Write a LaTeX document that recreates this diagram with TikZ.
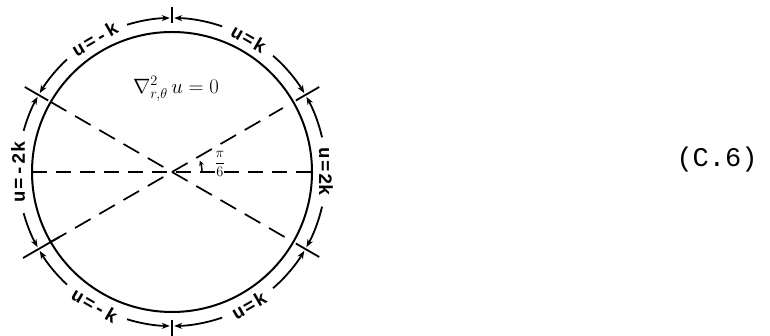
\documentclass[tikz,border=0pt]{standalone}
\usepackage{fontspec}
\setmainfont{Liberation Sans}
\newfontfamily\eqfont{Liberation Mono}
\newfontfamily\lblfont{Liberation Mono}
\usetikzlibrary{arrows.meta}
\newcommand{\lsp}{\hspace{1.5pt}}
\begin{document}
\begin{tikzpicture}[x=1pt,y=1pt,
  circ/.style={line width=2pt},
  dsh/.style={line width=1.7pt, dash pattern=on 18pt off 10pt},
  arcarrow/.style={line width=1.8pt,-{Stealth[length=8pt,width=6pt]}},
  tickline/.style={line width=1.8pt},
  bclabel/.style={font=\lblfont\bfseries\fontsize{19}{19}\selectfont, inner sep=0pt},
  eqstyle/.style={font=\fontsize{22}{24}\selectfont},
  angstyle/.style={font=\fontsize{15}{16}\selectfont, inner sep=0pt}
]
\useasboundingbox (0,0) rectangle (770,336);
\coordinate (O) at (172,164);
\def\ri{140}\def\ro{154}
% inner circle
\draw[circ] (O) circle[radius=\ri];
% dashed radial lines
\path (O) ++(180:\ri) coordinate (h1);
\path (O) ++(0:\ri) coordinate (h2);
\path (O) ++(150:\ri) coordinate (d1);
\path (O) ++(330:133) coordinate (d2);
\path (O) ++(210:\ri) coordinate (e1);
\path (O) ++(30:128) coordinate (e2);
\draw[dsh, dash pattern=on 15pt off 9pt] (h1) -- (h2);
\draw[dsh] (d1) -- (d2);
\draw[dsh] (e1) -- (e2);
% ticks
\foreach \a/\r/\s in {30/143/170, 150/143/170, 210/130/172, 330/143/170, 90/149/165, 270/148/166}{
  \draw[tickline] (O) ++(\a:\r) -- ++(\a:\s-\r);
}
% outer arcs with arrows toward ticks
\foreach \m/\d in {60/11, 120/13, 180/15.5, 240/13, 300/11, 0/13}{
  \draw[arcarrow] (O) ++(\m+\d:\ro) arc[start angle=\m+\d, end angle=\m+29.2, radius=\ro];
  \draw[arcarrow] (O) ++(\m-\d:\ro) arc[start angle=\m-\d, end angle=\m-29.2, radius=\ro];
}
% boundary labels
\path (O) ++(60:\ro) node[bclabel, rotate=-30] (l1) {u\lsp=\lsp k};
\path (O) ++(120:\ro) node[bclabel, rotate=30] (l2) {u\lsp=\lsp-\lsp k};
\path (O) ++(180:\ro) node[bclabel, rotate=90] (l3) {u\lsp=\lsp-\lsp 2k};
\path (O) ++(240:\ro) node[bclabel, rotate=-30] (l4) {u\lsp=\lsp-\lsp k};
\path (O) ++(300:\ro) node[bclabel, rotate=30] (l5) {u\lsp=\lsp k};
\path (O) ++(0:\ro) node[bclabel, rotate=-90] (l6) {u\lsp=\lsp 2k};
% equation
\node[eqstyle] (eq) at (176,247) {$\nabla^2_{r,\theta}\,u = 0$};
% angle mark
\draw[line width=1.5pt,-{Stealth[length=5pt,width=5pt]}] (O) ++(0:30) arc[start angle=0, end angle=22, radius=30];
\node[angstyle] (ang) at (220,172) {$\displaystyle\frac{\pi}{6}$};
% equation number
\node[font=\eqfont\fontsize{27}{30}\selectfont, inner sep=0pt] (num) at (717,176) {(C.6)};
\end{tikzpicture}
\end{document}
